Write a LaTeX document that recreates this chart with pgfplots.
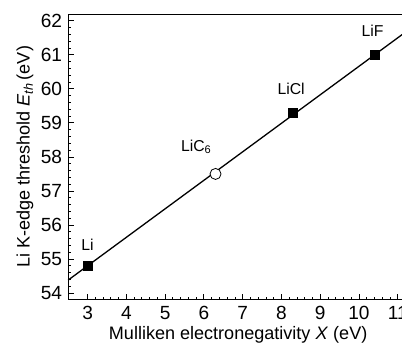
\documentclass[border=0pt]{standalone}
\usepackage{pgfplots}
\pgfplotsset{compat=1.18}
\usepackage{fontspec}
\setmainfont{Liberation Sans}
\begin{document}
\fontsize{18}{22}\selectfont
\begin{tikzpicture}
\begin{axis}[
  name=ax,
  scale only axis,
  width=348pt, height=285pt,
  xmin=2.5, xmax=11.5,
  ymin=53.8, ymax=62.2,
  xtick={3,4,...,11},
  ytick={54,55,...,62},
  minor x tick num=4,
  minor y tick num=4,
  tick pos=left,
  tick align=inside,
  major tick length=6pt,
  minor tick length=3pt,
  every tick/.style={black, line width=0.8pt},
  axis line style={line width=1pt},
  /pgf/number format/assume math mode=true,
  ticklabel style={font=\fontsize{19}{22}\selectfont},
  xlabel={Mulliken electronegativity \textit{X} (eV)},
  ylabel={Li K-edge threshold \textit{E}\textsubscript{\textit{th}}\,(eV)},
  xlabel style={at={(axis description cs:0.487,0)}, anchor=center, yshift=-35pt, font=\fontsize{18}{22}\selectfont},
  ylabel style={at={(axis description cs:0,0.5)}, anchor=center, yshift=43pt, font=\fontsize{18}{22}\selectfont},
  clip=false,
]
\addplot[black, line width=1.3pt, no marks] coordinates {(2.5,54.38) (11.5,61.92)};
\addplot[only marks, mark=square*, mark size=4.5pt, black] coordinates {(3,54.8) (8.3,59.3) (10.4,61.0)};
\addplot[only marks, mark=*, mark size=5.5pt, black, fill=white, line width=0.8pt] coordinates {(6.3,57.5)};
\node[font=\fontsize{15.7}{18}\selectfont] at (axis cs:3,55.42) {Li};
\node[font=\fontsize{15.7}{18}\selectfont] at (axis cs:5.8,58.3) {LiC\textsubscript{6}};
\node[font=\fontsize{15.7}{18}\selectfont] at (axis cs:8.25,60.0) {LiCl};
\node[font=\fontsize{15.7}{18}\selectfont] at (axis cs:10.35,61.7) {LiF};
\coordinate (R) at (axis cs:11.11,62.2);
\end{axis}
\pgfresetboundingbox
\path[use as bounding box] ([xshift=-68pt,yshift=-47pt]ax.south west) rectangle ([yshift=14pt]R);
\end{tikzpicture}
\end{document}
